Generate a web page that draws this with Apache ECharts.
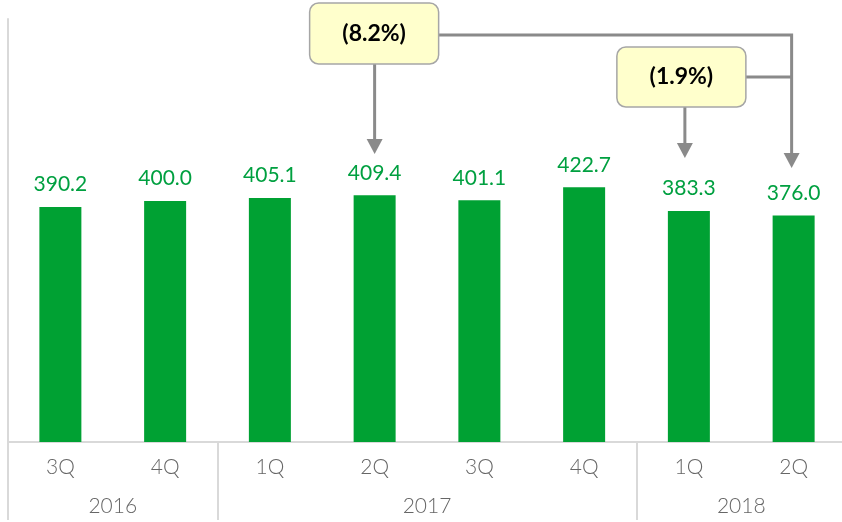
<!DOCTYPE html>
<html>
<head>
<meta charset="UTF-8">
<title>Quarterly chart</title>
<script src="https://cdn.jsdelivr.net/npm/echarts@6/dist/echarts.min.js"></script>
<style>
  html, body { margin: 0; padding: 0; background: #fff; }
  #main { width: 842px; height: 522px; }
</style>
</head>
<body>
<div id="main"></div>
<script>
    // 数据
    var quarters = ['3Q', '4Q', '1Q', '2Q', '3Q', '4Q', '1Q', '2Q'];
    var values = [390.2, 400.0, 405.1, 409.4, 401.1, 422.7, 383.3, 376.0];
    // 年份标签 (位置 = 所跨季度的中点)
    var yearPos = [1, 4, 7];
    var yearLabels = ['2016', '2017', '2018'];
    // 年份分隔线所在的类目下标
    var yearBreaks = [0, 2, 6];
    // 注释框
    var notes = ['(8.2%)', '(1.9%)'];

    var green = '#00A133';
    var gray = '#8a8a8a';
    var font = 'Lato, "Open Sans", sans-serif';

    var myChart = echarts.init(document.getElementById('main'));
    var option = {
        animation: false,
        grid: { left: 8, top: 19, width: 838, bottom: 80, containLabel: false, outerBoundsMode: 'none' },
        xAxis: [
            {
                type: 'category',
                data: quarters,
                axisLine: { lineStyle: { color: '#d9d9d9', width: 2 } },
                axisTick: {
                    show: true,
                    length: 78,
                    interval: function (i) { return yearBreaks.indexOf(i) >= 0; },
                    lineStyle: { color: '#d9d9d9', width: 2 }
                },
                axisLabel: { color: '#666', fontSize: 21, fontWeight: 300, fontFamily: font, margin: 15 }
            },
            {
                type: 'value',
                position: 'bottom',
                offset: 39,
                min: 0,
                max: 8,
                interval: 1,
                axisLine: { show: false },
                axisTick: { show: false },
                splitLine: { show: false },
                axisLabel: {
                    color: '#666', fontSize: 21, fontWeight: 300, fontFamily: font, margin: 15,
                    showMinLabel: true, showMaxLabel: true,
                    formatter: function (v) {
                        var k = yearPos.indexOf(v);
                        return k >= 0 ? yearLabels[k] : '';
                    }
                }
            }
        ],
        yAxis: {
            type: 'value',
            min: 0,
            max: 702,
            axisLine: { show: true, lineStyle: { color: '#d9d9d9', width: 2 } },
            axisTick: { show: false },
            axisLabel: { show: false },
            splitLine: { show: false }
        },
        series: [{
            type: 'bar',
            data: values,
            barWidth: 42,
            itemStyle: { color: green },
            label: {
                show: true,
                position: 'top',
                distance: 12,
                color: '#00A040',
                fontSize: 21,
                fontFamily: font,
                formatter: function (p) { return p.value.toFixed(1); }
            }
        }]
    };
    myChart.setOption(option);

    // 注释: 框 + 箭头, x 位置取自坐标轴
    function cx(i) { return myChart.convertToPixel({ xAxisIndex: 1 }, i + 0.5); }
    function box(x, y, w, h, text) {
        return [{
            type: 'rect',
            shape: { x: x, y: y, width: w, height: h, r: 9 },
            style: { fill: '#FFFFCC', stroke: '#a6a6a6', lineWidth: 1.5 },
            z: 10
        }, {
            type: 'text',
            x: x + w / 2,
            y: y + h / 2,
            style: {
                text: text, fill: '#000', font: 'bold 23px ' + font,
                textAlign: 'center', textVerticalAlign: 'middle'
            },
            z: 11
        }];
    }
    function line(pts) {
        return { type: 'polyline', shape: { points: pts }, style: { stroke: gray, lineWidth: 3, fill: null }, z: 5 };
    }
    function head(x, tipY) {
        return { type: 'polygon', shape: { points: [[x - 8, tipY - 15], [x + 8, tipY - 15], [x, tipY]] }, style: { fill: gray }, z: 5 };
    }
    var x3 = cx(3), x6 = cx(6) - 4, x7 = cx(7) - 2;
    var els = [];
    els = els.concat(box(x3 - 65, 3, 129, 61, notes[0]));
    els = els.concat(box(x6 - 68, 47, 129, 60, notes[1]));
    els.push(line([[x3, 64], [x3, 142]]));
    els.push(head(x3, 154));
    els.push(line([[x3 + 64, 35], [x7, 35], [x7, 156]]));
    els.push(head(x7, 168));
    els.push(line([[x6 + 61, 77], [x7, 77]]));
    els.push(line([[x6, 107], [x6, 146]]));
    els.push(head(x6, 158));
    myChart.setOption({ graphic: els });
</script>
</body>
</html>
